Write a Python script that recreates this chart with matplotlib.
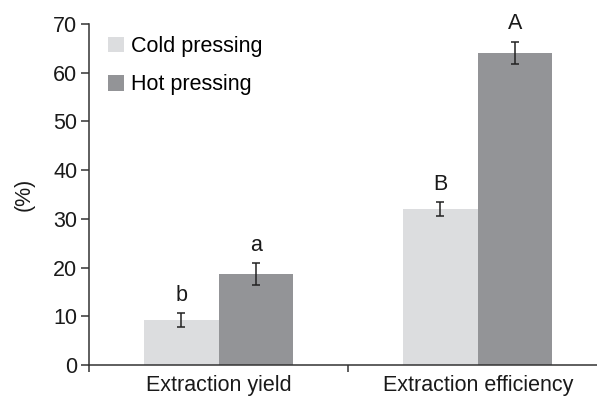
import numpy as np
import matplotlib
matplotlib.use("Agg")
import matplotlib.pyplot as plt

plt.rcParams["font.family"] = ["Liberation Sans", "DejaVu Sans"]

# Daten
categories = ["Extraction yield", "Extraction efficiency"]
series = ["Cold pressing", "Hot pressing"]
cold_values = [9.2, 32.0]
cold_err = [1.5, 1.5]
hot_values = [18.7, 64.1]
hot_err = [2.25, 2.25]
cold_letters = ["b", "B"]
hot_letters = ["a", "A"]

colors = ["#dcdddf", "#939497"]
axis_color = "#333333"
fs = 15.5

fig = plt.figure(figsize=(5.97, 3.98), dpi=100)
ax = fig.add_axes([89 / 597, 1 - 365 / 398, 1 - 89 / 597, (365 - 24) / 398])

x = np.arange(len(categories))
width = 0.288

ax.bar(x - width / 2, cold_values, width, color=colors[0], label=series[0], zorder=2)
ax.bar(x + width / 2, hot_values, width, color=colors[1], label=series[1], zorder=2)

ax.errorbar(x - width / 2, cold_values, yerr=cold_err, fmt="none", ecolor="#222222",
            elinewidth=1.1, capsize=3, capthick=1.1, zorder=3)
ax.errorbar(x + width / 2, hot_values, yerr=hot_err, fmt="none", ecolor="#222222",
            elinewidth=1.1, capsize=3, capthick=1.1, zorder=3)

# Buchstaben über den Balken
for xi, v, e, t in zip(x - width / 2, cold_values, cold_err, cold_letters):
    ax.text(xi, v + e + 1.5, t, ha="center", va="bottom", fontsize=fs, color="#1a1a1a")
for xi, v, e, t in zip(x + width / 2, hot_values, hot_err, hot_letters):
    ax.text(xi, v + e + 1.5, t, ha="center", va="bottom", fontsize=fs, color="#1a1a1a")

ax.set_xlim(-0.496, 1.46)
ax.set_ylim(0, 70)
ax.set_yticks(np.arange(0, 71, 10))
ax.set_xticks(x)
ax.set_xticklabels(categories, fontsize=fs, color="#1a1a1a")
ax.set_xticks([-0.5, 0.5], minor=True)
ax.tick_params(axis="x", which="major", length=0, pad=7)
ax.tick_params(axis="x", which="minor", length=5, width=1.1, color=axis_color)
ax.tick_params(axis="y", length=5.5, width=1.1, color=axis_color, labelsize=fs,
               labelcolor="#1a1a1a", pad=3)
ax.set_ylabel("(%)", fontsize=fs, color="#1a1a1a", labelpad=13)

for s in ["top", "right"]:
    ax.spines[s].set_visible(False)
for s in ["left", "bottom"]:
    ax.spines[s].set_color(axis_color)
    ax.spines[s].set_linewidth(1.1)
ax.spines["bottom"].set_zorder(4)

ax.legend(loc="upper left", bbox_to_anchor=(0.02, 0.99), frameon=False, fontsize=fs,
          handlelength=0.75, handleheight=0.75, handletextpad=0.35, labelspacing=0.8,
          borderaxespad=0)

fig.savefig("out.png", dpi=100)
